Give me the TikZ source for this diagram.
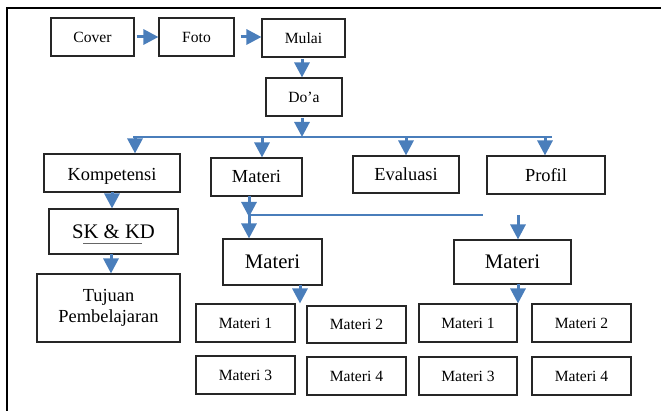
\documentclass[tikz,border=0pt]{standalone}
\usepackage{fontspec}
\setmainfont{Liberation Serif}
\usetikzlibrary{arrows.meta}
\definecolor{arrblue}{RGB}{74,126,187}
\tikzset{
  box/.style={draw=black!85, line width=1.1pt, inner sep=0pt, anchor=center},
  fsmall/.style={font=\fontsize{15.6}{18}\selectfont},
  fmid/.style={font=\fontsize{18.4}{21}\selectfont},
  fbig/.style={font=\fontsize{20.7}{24}\selectfont},
  arr/.style={draw=arrblue, line width=3pt, -{Triangle[length=15pt,width=15pt]}},
  thinline/.style={draw=arrblue, line width=1.1pt},
  frame/.style={draw=black, line width=2.6pt}
}
\begin{document}
\begin{tikzpicture}[x=1pt,y=-1pt]
\useasboundingbox (0,0) rectangle (661,411);
% frame
\coordinate (fTL) at (7,8);
\coordinate (fTR) at (661,8);
\coordinate (fBL) at (7,411);
\draw[frame] (fTR) -- (fTL) -- (fBL);
% top row
\node[box,fsmall,minimum width=83pt,minimum height=38pt] (cover) at (92.5,37) {Cover};
\node[box,fsmall,minimum width=75pt,minimum height=38pt] (foto) at (196.5,37) {Foto};
\node[box,fsmall,minimum width=83pt,minimum height=38pt] (mulai) at (303.5,38) {Mulai};
\node[box,fsmall,minimum width=76pt,minimum height=38pt] (doa) at (304,97) {Do’a};
% middle row
\node[box,fmid,minimum width=136pt,minimum height=38pt,text height=16pt,text depth=-3pt] (komp) at (112,173) {Kompetensi};
\node[box,fmid,minimum width=91pt,minimum height=38pt] (materi) at (256.5,177) {Materi};
\node[box,fmid,minimum width=106pt,minimum height=37pt] (eval) at (406,174.5) {Evaluasi};
\node[box,fmid,minimum width=118pt,minimum height=38pt] (profil) at (546,175) {Profil};
% left column
\node[box,fbig,minimum width=129pt,minimum height=45pt] (skkd) at (113.5,231.5) {SK \& KD};
\node[box,fmid,minimum width=143pt,minimum height=68pt,align=center] (tujuan) at (108.5,308) {Tujuan\\Pembelajaran};
% materi groups
\node[box,fbig,minimum width=99pt,minimum height=46pt] (matL) at (272.5,262) {Materi};
\node[box,fbig,minimum width=117pt,minimum height=44pt] (matR) at (512.5,262) {Materi};
\node[box,fsmall,minimum width=99pt,minimum height=38pt] (l1) at (245.5,323) {Materi 1};
\node[box,fsmall,minimum width=99pt,minimum height=37pt] (l2) at (356.5,324.5) {Materi 2};
\node[box,fsmall,minimum width=99pt,minimum height=38pt] (l3) at (245.5,375) {Materi 3};
\node[box,fsmall,minimum width=99pt,minimum height=38pt] (l4) at (356.5,376) {Materi 4};
\node[box,fsmall,minimum width=98pt,minimum height=38pt] (r1) at (468,323) {Materi 1};
\node[box,fsmall,minimum width=99pt,minimum height=38pt] (r2) at (581.5,323) {Materi 2};
\node[box,fsmall,minimum width=98pt,minimum height=38pt] (r3) at (468,376) {Materi 3};
\node[box,fsmall,minimum width=99pt,minimum height=38pt] (r4) at (581.5,376) {Materi 4};
% underline under SK & KD
\coordinate (ulA) at (83,243.5);
\coordinate (ulB) at (142,243.5);
\draw[black!60, line width=0.9pt] (ulA) -- (ulB);
% top arrows
\draw[arr] (cover.east) ++(2,0) coordinate (c1) (c1) -- (c1 -| foto.west);
\draw[arr] (foto.east) ++(6,0) coordinate (f1) (f1) -- (f1 -| mulai.west);
\coordinate (m1) at (302,59);
\draw[arr] (m1) -- (m1 |- doa.north);
% hub
\coordinate (hubL) at (133,137);
\coordinate (hubR) at (552,137);
\coordinate (d1) at (302,118);
\draw[arr] (d1) -- (d1 |- hubL);
\draw[thinline] (hubL) -- (hubR);
\coordinate (hk) at (135,137);
\coordinate (hm) at (262,137);
\coordinate (he) at (406,137);
\coordinate (hp) at (545,137);
\draw[arr] (hk) -- (hk |- komp.north);
\draw[arr] (hm) -- (hm |- materi.north);
\draw[arr] (he) -- (he |- eval.north);
\draw[arr] (hp) -- (hp |- profil.north);
% left column arrows
\coordinate (k2) at (112,192);
\draw[arr] (k2) -- (k2 |- skkd.north);
\coordinate (s2) at (111,254);
\draw[arr] (s2) -- (s2 |- tujuan.north);
% materi split
\coordinate (ms) at (249,196);
\coordinate (mj) at (249,215);
\coordinate (mjR) at (483,215);
\coordinate (mj2) at (249,217);
\draw[arr] (ms) -- (mj2);
\draw[arr] (mj) -- (mj |- matL.north);
\draw[thinline] (mj) -- (mjR);
\coordinate (rj) at (518,215);
\draw[arr] (rj) -- (rj |- matR.north);
% materi to sub items
\coordinate (ml) at (300,285);
\draw[arr] (ml) -- (ml |- l1.north);
\coordinate (mr) at (518,284);
\draw[arr] (mr) -- (mr |- r1.north);
\end{tikzpicture}
\end{document}
